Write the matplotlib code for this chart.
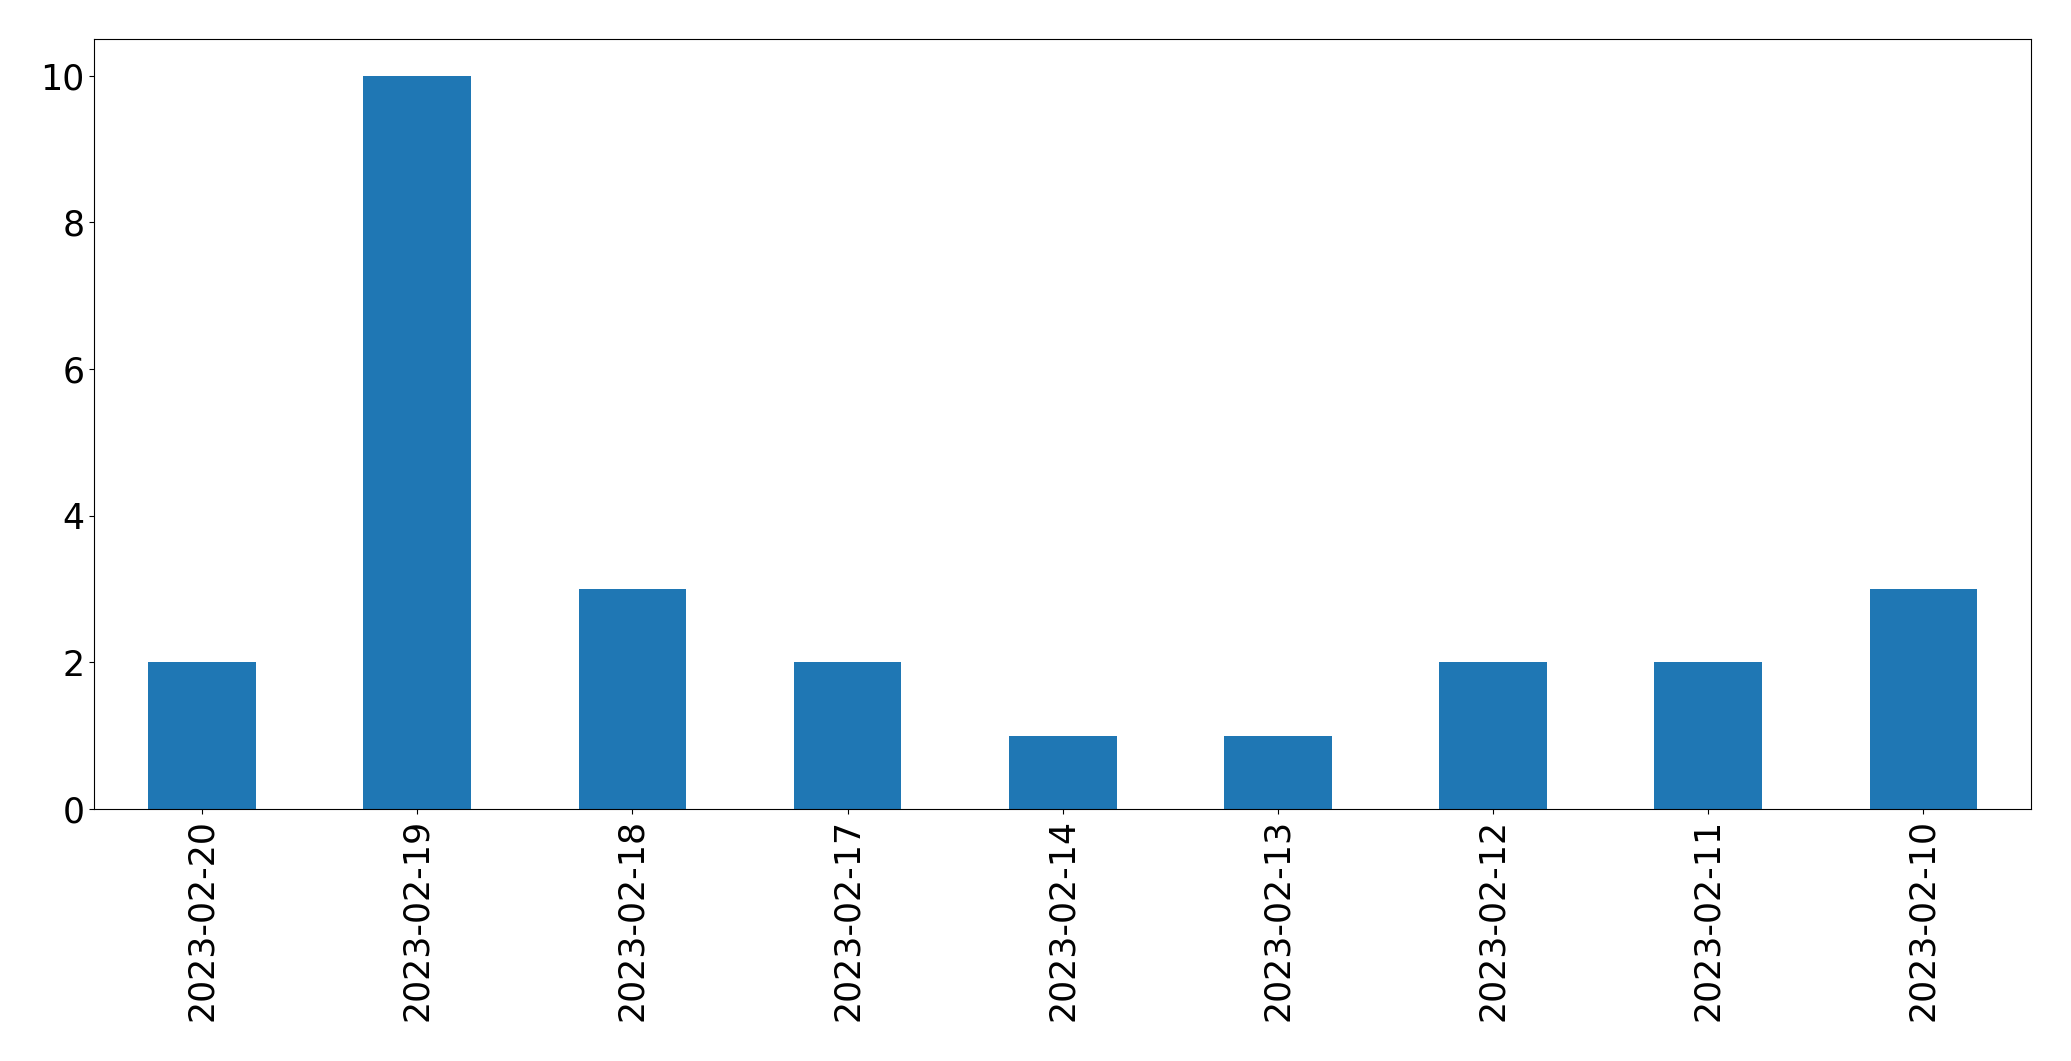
import matplotlib
matplotlib.use("Agg")
import matplotlib.pyplot as plt
import pandas as pd

dates = ["2023-02-20", "2023-02-19", "2023-02-18", "2023-02-17", "2023-02-14",
         "2023-02-13", "2023-02-12", "2023-02-11", "2023-02-10"]
counts = [2, 10, 3, 2, 1, 1, 2, 2, 3]

s = pd.Series(counts, index=dates)

fig = plt.figure(figsize=(20.71, 10.61), dpi=100)
ax = fig.add_axes([0.0456, 0.2375, 0.9351, 0.7257])
s.plot(kind="bar", ax=ax, color="#1f77b4")
ax.tick_params(labelsize=25)

fig.savefig("out.png", dpi=100)
